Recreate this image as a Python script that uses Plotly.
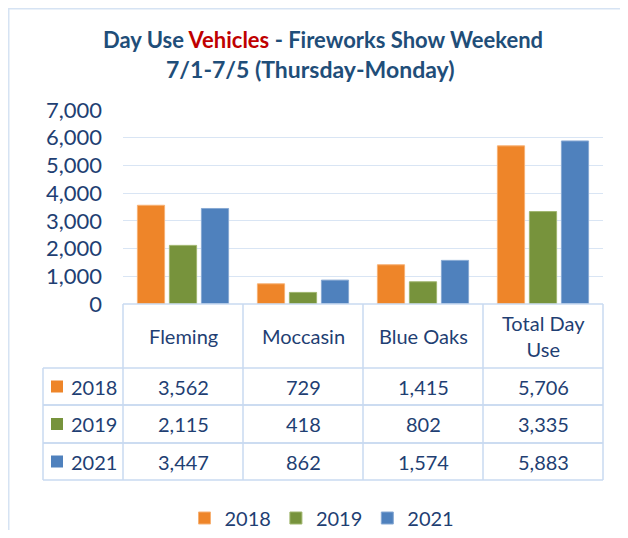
import plotly.graph_objects as go

# ---------------- data ----------------
categories = ["Fleming", "Moccasin", "Blue Oaks", "Total Day Use"]
header_labels = ["Fleming", "Moccasin", "Blue Oaks", "Total Day<br>Use"]
years = ["2018", "2019", "2021"]
values_2018 = [3562, 729, 1415, 5706]
values_2019 = [2115, 418, 802, 3335]
values_2021 = [3447, 862, 1574, 5883]
y_tick_values = [0, 1000, 2000, 3000, 4000, 5000, 6000, 7000]
y_tick_labels = ["0", "1,000", "2,000", "3,000", "4,000", "5,000", "6,000", "7,000"]

series = [values_2018, values_2019, values_2021]
bar_colors = ["#EE8529", "#77933C", "#4F81BD"]
edge_colors = ["#F7B174", "#A0B66F", "#86A8D3"]

# ---------------- geometry ----------------
# The page body has an 8px margin on every side, so the figure is made
# 16px smaller than the window and reference pixel positions are shifted.
OFF = 8
W, H = 628 - 2 * OFF, 538 - 2 * OFF
L = 123 - OFF
R = W - (603 - OFF)
T = 110 - OFF
BASE = 304 - OFF
B = H - BASE
PW, PH = W - L - R, H - T - B


def xp(px):
    """reference pixel x -> paper x"""
    return (px - OFF - L) / PW


def yp(py):
    """reference pixel y -> paper y"""
    return (BASE - (py - OFF)) / PH


TEXT = "#1F3F73"
LINE = "#C9DAF0"
FONT = "Lato"

header_rows = (304, 368)
row_bounds = [(368, 405), (405, 443), (443, 480)]
left_col = 43

fig = go.Figure()
for name, vals, col, ec in zip(years, series, bar_colors, edge_colors):
    fig.add_trace(go.Bar(
        name=name, x=categories, y=vals,
        marker=dict(color=col, line=dict(color=ec, width=1)),
        hoverinfo="x+y+name",
    ))

annotations = []
shapes = []

# title
annotations.append(dict(
    text="<b>Day Use <span style='color:#C00000'>Vehicles</span> - Fireworks Show Weekend</b>",
    xref="paper", yref="paper", x=xp(323), y=yp(40), showarrow=False,
    xanchor="center", yanchor="middle", font=dict(family=FONT, size=22, color="#1F4E79")))
annotations.append(dict(
    text="<b>7/1-7/5 (Thursday-Monday)</b>",
    xref="paper", yref="paper", x=xp(310), y=yp(69), showarrow=False,
    xanchor="center", yanchor="middle", font=dict(family=FONT, size=23, color="#1F4E79")))

# table header
hc = (header_rows[0] + header_rows[1]) / 2
for cat, lab in zip(categories, header_labels):
    annotations.append(dict(text=lab, xref="x", yref="paper", x=cat, y=yp(hc),
                            showarrow=False, xanchor="center", yanchor="middle",
                            font=dict(family=FONT, size=20, color=TEXT)))

# table body
for (top, bot), name, vals, col in zip(row_bounds, years, series, bar_colors):
    c = (top + bot) / 2
    for cat, v in zip(categories, vals):
        annotations.append(dict(text=f"{v:,}", xref="x", yref="paper", x=cat, y=yp(c),
                                showarrow=False, xanchor="center", yanchor="middle",
                                font=dict(family=FONT, size=20, color=TEXT)))
    annotations.append(dict(text=name, xref="paper", yref="paper", x=xp(69), y=yp(c),
                            showarrow=False, xanchor="left", yanchor="middle",
                            font=dict(family=FONT, size=20, color=TEXT)))
    shapes.append(dict(type="rect", xref="paper", yref="paper",
                       x0=xp(51), x1=xp(63), y0=yp(c - 6), y1=yp(c + 6),
                       fillcolor=col, line=dict(width=0)))

# table grid lines
n = len(categories)
for i in range(n + 1):
    shapes.append(dict(type="line", xref="paper", yref="paper", x0=i / n, x1=i / n,
                       y0=yp(header_rows[0]), y1=yp(row_bounds[-1][1]),
                       line=dict(color=LINE, width=1.5)))
shapes.append(dict(type="line", xref="paper", yref="paper", x0=xp(left_col), x1=xp(left_col),
                   y0=yp(row_bounds[0][0]), y1=yp(row_bounds[-1][1]),
                   line=dict(color=LINE, width=1.5)))
shapes.append(dict(type="line", xref="paper", yref="paper", x0=0, x1=1,
                   y0=yp(header_rows[0]), y1=yp(header_rows[0]),
                   line=dict(color=LINE, width=1.5)))
for top, bot in row_bounds:
    for yy in (top, bot):
        shapes.append(dict(type="line", xref="paper", yref="paper", x0=xp(left_col), x1=1,
                           y0=yp(yy), y1=yp(yy), line=dict(color=LINE, width=1.5)))

# outer chart border (top and left edges visible)
shapes.append(dict(type="rect", xref="paper", yref="paper",
                   x0=xp(OFF + 0.5), x1=xp(640), y0=yp(OFF + 0.5), y1=yp(560),
                   line=dict(color="#D6E3F3", width=2), fillcolor="rgba(0,0,0,0)"))

fig.update_layout(
    width=W, height=H,
    margin=dict(l=L, r=R, t=T, b=B, autoexpand=False),
    paper_bgcolor="white", plot_bgcolor="white",
    barmode="group", bargap=0.2, bargroupgap=0.15,
    font=dict(family=FONT, color=TEXT),
    showlegend=True,
    legend=dict(orientation="h", xanchor="center", yanchor="middle",
                xref="container", yref="container",
                x=(322 - OFF) / W, y=1 - (518 - OFF) / H,
                font=dict(family=FONT, size=20, color=TEXT),
                bgcolor="rgba(0,0,0,0)", itemwidth=30, traceorder="normal"),
    xaxis=dict(showticklabels=False, showgrid=False, showline=False, zeroline=False,
               ticks="", automargin=False),
    yaxis=dict(range=[0, 7000], tickvals=y_tick_values, ticktext=y_tick_labels,
               showgrid=True, gridcolor="#D9E5F4", gridwidth=1.2, zeroline=False,
               showline=False, ticks="", ticklabelstandoff=20, automargin=False,
               tickfont=dict(family=FONT, size=22, color=TEXT)),
    annotations=annotations,
    shapes=shapes,
)

fig.write_html("out.html")
